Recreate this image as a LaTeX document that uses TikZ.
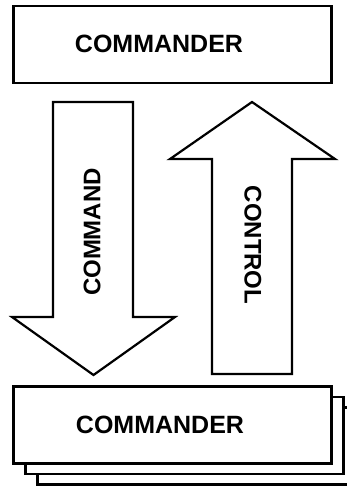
\documentclass[tikz,border=0pt]{standalone}
\usepackage{fontspec}
\setmainfont{Liberation Sans}
\usetikzlibrary{positioning}
\begin{document}
\begin{tikzpicture}[x=1pt,y=-1pt]
	\tikzset{box/.style={draw=black,line width=2.2pt,fill=white,minimum width=318pt,minimum height=77pt,inner sep=0pt},
		lbl/.style={font=\fontsize{25}{25}\selectfont\bfseries,inner sep=0pt},
		albl/.style={font=\fontsize{24}{24}\selectfont\bfseries,inner sep=0pt},
		blockarrow/.style={draw=black,line width=2.2pt,fill=white,line join=miter}}
	\useasboundingbox (0,0) rectangle (347,487);
	\clip (0,0) rectangle (347,487);
	
	% top
	\node[box] (top) at (172.5,44.5) {};
	\node[lbl] (top-t) at (159,44) {COMMANDER};
	
	% arrows
	\draw[blockarrow] (53,102) -- (133,102) -- (133,317) -- (175,317) -- (93.5,375) -- (12,317) -- (53,317) -- cycle;
	\node[albl,rotate=90] (cmd) at (92,232) {COMMAND};
	\draw[blockarrow] (252,102) -- (335,159) -- (292,159) -- (292,374) -- (212,374) -- (212,159) -- (170,159) -- cycle;
	\node[albl,rotate=-90] (ctl) at (253,245) {CONTROL};
	
	% stack at the bottom
	\node[box] (bot-3) at (196.5,446) {};
	\node[box] (bot-2) at (184.5,435.5) {};
	\node[box] (bot) at (172.5,425) {};
	\node[lbl] (bot-t) at (160,425) {COMMANDER};
\end{tikzpicture}
\end{document}
